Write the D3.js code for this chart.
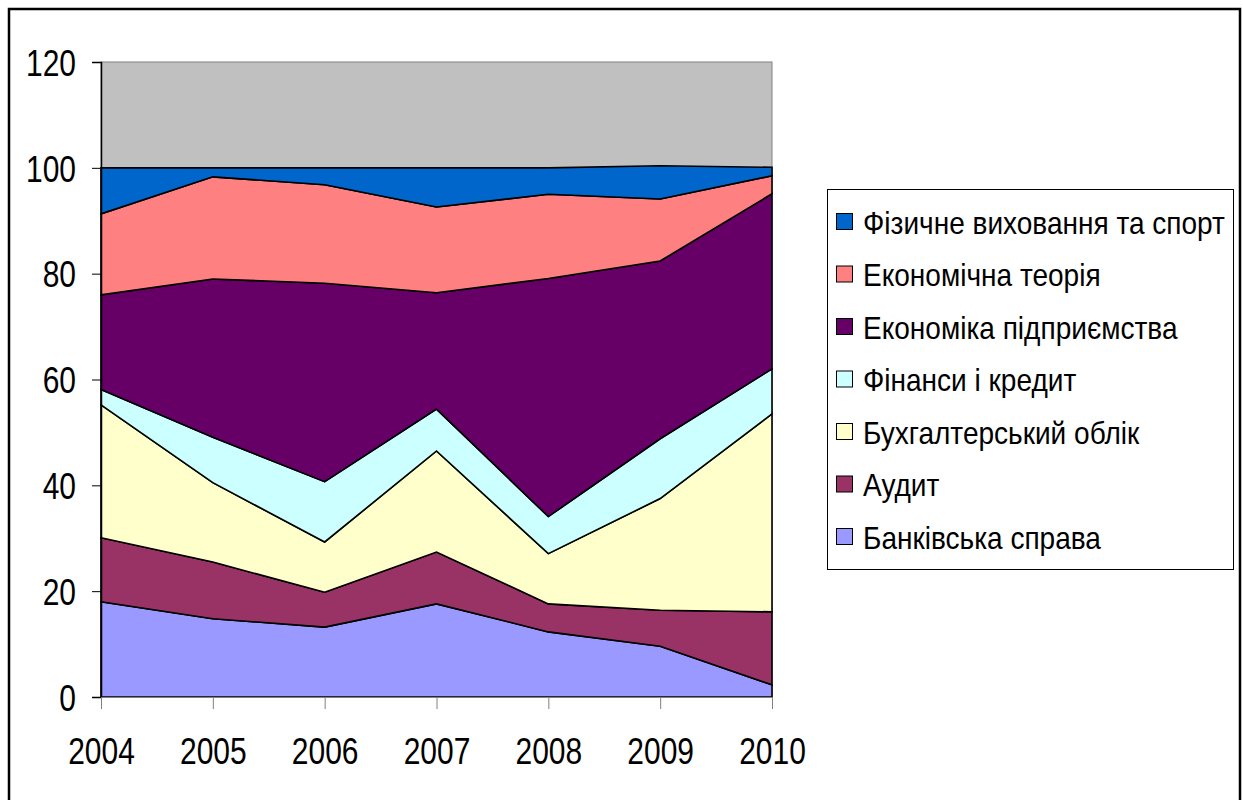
<!DOCTYPE html>
<html>
<head>
<meta charset="utf-8">
<script src="https://cdn.jsdelivr.net/npm/d3@7"></script>
<style>
  body { margin: 0; background: #fff; }
  svg { display: block; }
  text { font-family: "Liberation Sans", Arial, sans-serif; fill: #000; }
</style>
</head>
<body>
<svg id="chart" width="1243" height="800"></svg>
<script>
// years along the x axis
const years = ["2004", "2005", "2006", "2007", "2008", "2009", "2010"];
// y axis tick labels
const yTicks = [0, 20, 40, 60, 80, 100, 120];

// series, bottom to top of the stack
const banking    = [18.0, 14.8, 13.2, 17.6, 12.3, 9.6, 2.3];
const audit      = [12.1, 10.7, 6.6, 9.8, 5.3, 6.8, 13.8];
const accounting = [25.1, 15.0, 9.5, 19.1, 9.5, 21.1, 37.4];
const finance    = [2.9, 8.6, 11.4, 7.9, 7.0, 11.3, 8.5];
const enterprise = [17.9, 29.9, 37.5, 22.0, 45.0, 33.6, 33.1];
const theory     = [15.3, 19.3, 18.6, 16.2, 15.9, 11.7, 3.4];
const sport      = [8.7, 1.7, 3.2, 7.4, 5.0, 6.3, 1.6];

const seriesNames = ["Банківська справа", "Аудит", "Бухгалтерський облік", "Фінанси і кредит",
                     "Економіка підприємства", "Економічна теорія", "Фізичне виховання та спорт"];
const seriesValues = [banking, audit, accounting, finance, enterprise, theory, sport];
const seriesColors = ["#9999FF", "#993366", "#FFFFCC", "#CCFFFF", "#660066", "#FF8080", "#0066CC"];

// no narrow font installed, so squeeze text horizontally
const narrow = 0.81;

const svg = d3.select("#chart");

// outer chart frame (bottom edge runs off the picture)
svg.append("rect")
  .attr("x", 9).attr("y", 9)
  .attr("width", 1231).attr("height", 820)
  .attr("fill", "#fff").attr("stroke", "#000").attr("stroke-width", 2.5);

const plot = {left: 101, top: 62, right: 772, bottom: 697};

const x = d3.scalePoint().domain(years).range([plot.left, plot.right]);
const y = d3.scaleLinear().domain([0, 120]).range([plot.bottom, plot.top]);

// build the table d3.stack wants
const table = years.map((yr, i) => {
  const row = {year: yr};
  seriesNames.forEach((n, j) => { row[n] = seriesValues[j][i]; });
  return row;
});
const stacked = d3.stack().keys(seriesNames)(table);

// plot area background
svg.append("rect")
  .attr("x", plot.left).attr("y", plot.top)
  .attr("width", plot.right - plot.left).attr("height", plot.bottom - plot.top)
  .attr("fill", "#C0C0C0").attr("stroke", "#808080").attr("stroke-width", 1);

const area = d3.area()
  .x(d => x(d.data.year))
  .y0(d => y(d[0]))
  .y1(d => y(d[1]));

svg.append("g").selectAll("path")
  .data(stacked)
  .enter().append("path")
  .attr("d", area)
  .attr("fill", (d, i) => seriesColors[i])
  .attr("stroke", "#000")
  .attr("stroke-width", 1.6)
  .attr("stroke-linejoin", "miter");

// y axis
const yAxis = svg.append("g")
  .attr("transform", "translate(" + plot.left + ",0)")
  .call(d3.axisLeft(y).tickValues(yTicks).tickSize(9).tickFormat(d3.format("d")));
yAxis.select(".domain").attr("stroke", "#000").attr("stroke-width", 1.5);
yAxis.selectAll(".tick line").attr("stroke", "#000");
yAxis.selectAll("text")
  .style("font-size", "37px")
  .attr("x", -25 / narrow)
  .attr("dy", "0.36em")
  .attr("transform", "scale(" + narrow + ",1)");

// x axis
const xAxis = svg.append("g")
  .attr("transform", "translate(0," + plot.bottom + ")")
  .call(d3.axisBottom(x).tickSize(12).tickPadding(29).tickSizeOuter(0));
xAxis.select(".domain").attr("stroke", "#808080");
xAxis.selectAll(".tick line").attr("stroke", "#808080");
xAxis.selectAll("text")
  .style("font-size", "37px")
  .attr("transform", "scale(" + narrow + ",1)");

// legend, top entry is the top of the stack
const legend = svg.append("g");
legend.append("rect")
  .attr("x", 827.5).attr("y", 189.5)
  .attr("width", 406).attr("height", 380)
  .attr("fill", "#fff").attr("stroke", "#000").attr("stroke-width", 1);

const legendItems = seriesNames.map((n, i) => ({name: n, color: seriesColors[i]})).reverse();
const li = legend.selectAll("g.item")
  .data(legendItems)
  .enter().append("g")
  .attr("class", "item")
  .attr("transform", (d, i) => "translate(836," + (222 + i * 52.5) + ")");
li.append("rect")
  .attr("x", 0.5).attr("y", -8.5)
  .attr("width", 16).attr("height", 16)
  .attr("fill", d => d.color).attr("stroke", "#000").attr("stroke-width", 1);
const lt = li.append("text")
  .attr("y", 0).attr("dy", "0.36em")
  .style("font-size", "32px")
  .text(d => d.name);
// longest label spans about 362px in the reference
const longest = d3.max(lt.nodes(), n => n.getComputedTextLength());
const ls = 362 / longest;
lt.attr("x", 27 / ls).attr("transform", "scale(" + ls + ",1)");
</script>
</body>
</html>
